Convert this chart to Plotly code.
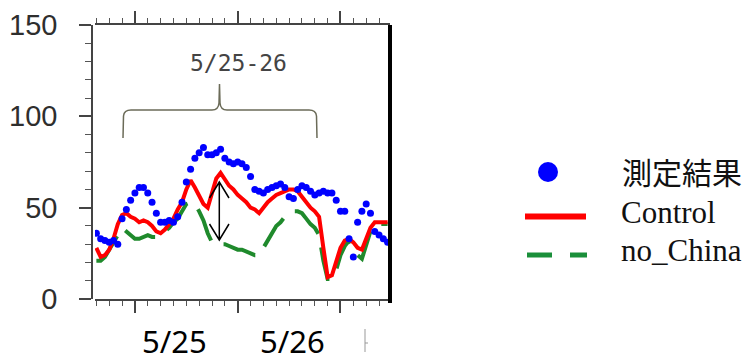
import plotly.graph_objects as go

# ---- data (hours since 5/24 00:00) ----
hours = list(range(15, 84))
obs = [36, 33, 32, 31, 32, 30, 44, 49, 54, 58,
       61, 61, 58, 53, 47, 42, 42, 43, 42, 45,
       53, 64, 71, 77, 80, 83, 79, 79, 80, 82,
       77, 75, 74, 75, 74, 72, 67, 60, 59, 58,
       60, 61, 62, 63, 61, 56, 55, 60, 62, 61,
       59, 57, 58, 59, 58, 58, 54, 48, 48, 33,
       23, 42, 48, 52, 47, 37, 35, 33, 31]
control = [28, 23, 24, 27, 33, 41, 46, 47, 45, 44,
           42, 43, 42, 40, 37, 36, 38, 41, 44, 49,
           53, 60, 65, 61, 57, 52, 50, 58, 66, 69,
           65, 62, 60, 57, 55, 53, 50, 49, 47, 50,
           53, 55, 57, 58, 59, 60, 60, 59, 56, 53,
           50, 48, 45, 28, 12, 13, 20, 28, 32, 33,
           31, 28, 27, 33, 39, 42, 42, 42, 42]
no_china = [21, 21, 23, 27, 31, 36, 39, 37, 35, 33,
            33, 34, 35, 34, 34, 35, 37, 39, 42, 44,
            48, 52, 53, 52, 48, 43, 36, 31, 30, 30,
            30, 29, 28, 27, 27, 26, 25, 24, 24, 28,
            33, 36, 40, 42, 45, 47, 48, 48, 47, 44,
            41, 39, 35, 21, 11, 11, 16, 24, 29, 32,
            28, 24, 22, 30, 37, 40, 41, 41, 41]
y_ticks = [0, 50, 100, 150]
day_labels = ["5/25", "5/26"]
legend_names = ["測定結果", "Control", "no_China"]

W, H = 750, 363
L, R, T, B = 92, 360, 25, 64
PW, PH = W - L - R, H - T - B


def px(x):
    return (x - L) / PW


def py(y):
    return (H - B - y) / PH


def P(x, y):
    return f"{px(x):.5f},{py(y):.5f}"


fig = go.Figure()
fig.add_trace(go.Scatter(x=hours, y=no_china, mode="lines",
                         line=dict(color="#1f8a2c", width=4, dash="34px,14px"),
                         name=legend_names[2]))
fig.add_trace(go.Scatter(x=hours, y=control, mode="lines",
                         line=dict(color="#ff0000", width=4),
                         name=legend_names[1]))
fig.add_trace(go.Scatter(x=hours, y=obs, mode="markers",
                         marker=dict(color="#0000ff", size=7),
                         name=legend_names[0]))

shapes = []
# thick right border
shapes.append(dict(type="line", xref="paper", yref="paper",
                   x0=1, x1=1, y0=py(303), y1=1, line=dict(color="black", width=4)))
# brace
brace = ("M " + P(123, 138) + " L " + P(123.5, 116) + " Q " + P(124, 110) + " " + P(131, 110)
         + " L " + P(212, 110) + " Q " + P(218.5, 110) + " " + P(219, 103)
         + " L " + P(219.5, 84) + " L " + P(220, 103) + " Q " + P(220.5, 110) + " " + P(227, 110)
         + " L " + P(309, 110) + " Q " + P(316, 110) + " " + P(316.5, 116) + " L " + P(317, 138))
shapes.append(dict(type="path", xref="paper", yref="paper", path=brace,
                   line=dict(color="#6b6b58", width=1.5)))
# double arrow
arrow = ("M " + P(219.3, 182) + " L " + P(219.3, 240)
         + " M " + P(209.5, 198) + " L " + P(219.3, 182) + " L " + P(229, 198)
         + " M " + P(209.5, 224) + " L " + P(219.3, 240) + " L " + P(229, 224))
shapes.append(dict(type="path", xref="paper", yref="paper", path=arrow,
                   line=dict(color="black", width=1.5)))
# legend symbols
shapes.append(dict(type="circle", xref="paper", yref="paper",
                   x0=px(538), x1=px(558), y0=py(182), y1=py(162),
                   fillcolor="#0000ff", line=dict(color="#0000ff", width=0)))
shapes.append(dict(type="line", xref="paper", yref="paper",
                   x0=px(525), x1=px(586), y0=py(216.5), y1=py(216.5),
                   line=dict(color="#ff0000", width=6)))
for a, b in [(527, 552), (570, 587)]:
    shapes.append(dict(type="line", xref="paper", yref="paper",
                       x0=px(a), x1=px(b), y0=py(255), y1=py(255),
                       line=dict(color="#1a8f3a", width=5)))
# small cut-off mark under the axis
shapes.append(dict(type="line", xref="paper", yref="paper",
                   x0=px(365), x1=px(365), y0=py(329), y1=py(352),
                   line=dict(color="#999999", width=1)))
shapes.append(dict(type="line", xref="paper", yref="paper",
                   x0=px(365), x1=px(368), y0=py(343), y1=py(343),
                   line=dict(color="#999999", width=1)))

annotations = [
    dict(text="5/25-26", xref="paper", yref="paper", x=px(238), y=py(63),
         xanchor="center", yanchor="middle", showarrow=False,
         font=dict(family="DejaVu Sans Mono", size=23, color="#444444")),
    dict(text=day_labels[0], xref="paper", yref="paper", x=px(174), y=py(341),
         xanchor="center", yanchor="middle", showarrow=False,
         font=dict(family="Noto Sans", size=31, color="black")),
    dict(text=day_labels[1], xref="paper", yref="paper", x=px(292.5), y=py(341),
         xanchor="center", yanchor="middle", showarrow=False,
         font=dict(family="Noto Sans", size=31, color="black")),
    dict(text=legend_names[0], xref="paper", yref="paper", x=px(620), y=py(171),
         xanchor="left", yanchor="middle", showarrow=False,
         font=dict(family="Noto Sans CJK JP", size=30, color="#111111")),
    dict(text=legend_names[1], xref="paper", yref="paper", x=px(619), y=py(212),
         xanchor="left", yanchor="middle", showarrow=False,
         font=dict(family="Liberation Serif", size=31, color="#111111")),
    dict(text=legend_names[2], xref="paper", yref="paper", x=px(619), y=py(250),
         xanchor="left", yanchor="middle", showarrow=False,
         font=dict(family="Liberation Serif", size=31, color="#111111")),
]

fig.update_layout(
    width=W, height=H,
    margin=dict(l=L, r=R, t=T, b=B, autoexpand=False),
    paper_bgcolor="white", plot_bgcolor="white",
    showlegend=False,
    shapes=shapes, annotations=annotations,
    xaxis=dict(domain=[3 / PW, 1], range=[14.68, 83.56], automargin=False,
               showgrid=False, zeroline=False,
               showline=True, linecolor="#444444", linewidth=1.5, mirror="ticks",
               ticks="outside", tick0=0, dtick=24, ticklen=12, tickwidth=1.5,
               tickcolor="#444444", showticklabels=False,
               minor=dict(ticks="outside", tick0=0, dtick=3, ticklen=5,
                          tickwidth=1.2, tickcolor="#555555")),
    yaxis=dict(range=[0, 150], anchor="free", position=0, automargin=False,
               showgrid=False, zeroline=False,
               showline=True, linecolor="#444444", linewidth=1.5,
               ticks="outside", tickvals=y_ticks, ticklen=12, tickwidth=1.5,
               tickcolor="#444444", ticklabelstandoff=16,
               tickfont=dict(family="Liberation Sans", size=29, color="#2e2e2e"),
               minor=dict(ticks="outside", dtick=10, ticklen=6, tickwidth=1.2,
                          tickcolor="#555555")),
)

fig.write_html("out.html", config={"displayModeBar": False},
               post_script="document.body.style.margin='0';document.body.style.overflow='hidden';")
